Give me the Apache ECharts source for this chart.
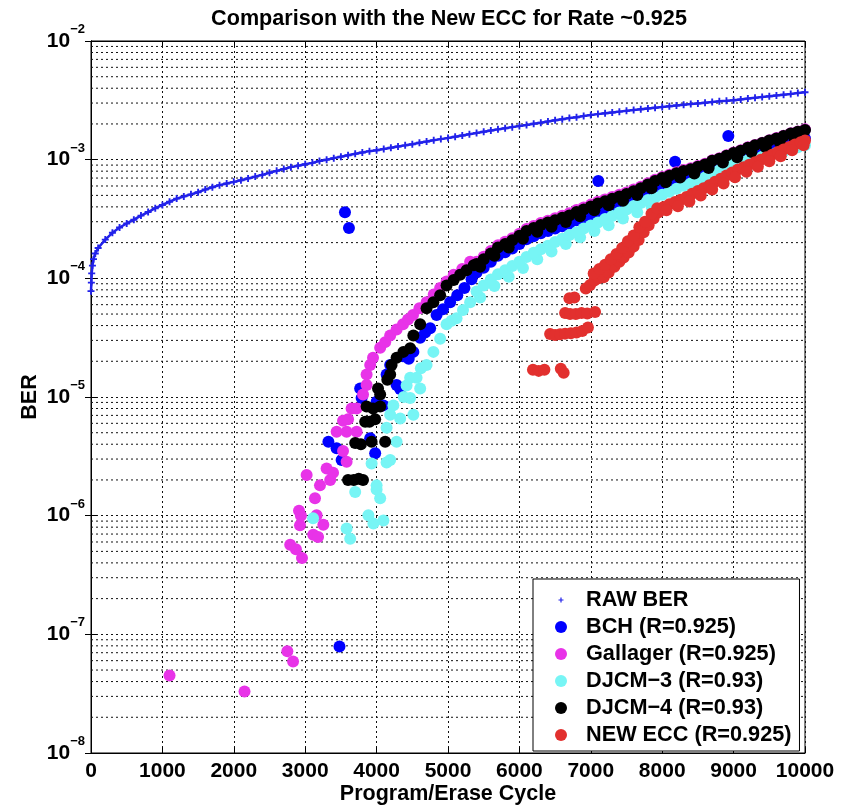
<!DOCTYPE html>
<html><head><meta charset="utf-8">
<script src="https://cdn.jsdelivr.net/npm/echarts@6/dist/echarts.min.js"></script>
<style>html,body{margin:0;padding:0;background:#fff}#c{width:848px;height:805px}</style>
</head><body><div id="c"></div>
<script>
// ---------- data ----------
const xTickValues = [0,1000,2000,3000,4000,5000,6000,7000,8000,9000,10000];
const yTickExponents = [-8,-7,-6,-5,-4,-3,-2];
const seriesNames = ['RAW BER','BCH (R=0.925)','Gallager (R=0.925)','DJCM\u22123 (R=0.93)','DJCM\u22124 (R=0.93)','NEW ECC (R=0.925)'];

const rawBER = [[0,7.8e-5],[5,9.2e-5],[10,1.1e-4],[20,1.28e-4],[35,1.45e-4],[60,1.62e-4],[100,1.8e-4],[200,2.12e-4],[300,2.42e-4],[400,2.68e-4],[500,2.9e-4],[600,3.12e-4],[700,3.38e-4],[800,3.62e-4],[900,3.9e-4],[1000,4.15e-4],[1100,4.42e-4],[1200,4.7e-4],[1300,4.9e-4],[1400,5.1e-4],[1500,5.32e-4],[1600,5.6e-4],[1700,5.85e-4],[1800,6.1e-4],[1900,6.3e-4],[2000,6.5e-4],[2100,6.7e-4],[2200,6.95e-4],[2300,7.2e-4],[2400,7.45e-4],[2500,7.75e-4],[2600,8.05e-4],[2700,8.35e-4],[2800,8.65e-4],[2900,8.9e-4],[3000,9.15e-4],[3100,9.4e-4],[3200,9.75e-4],[3300,1.0e-3],[3400,1.03e-3],[3500,1.06e-3],[3600,1.09e-3],[3700,1.12e-3],[3800,1.15e-3],[3900,1.18e-3],[4000,1.2e-3],[4100,1.23e-3],[4200,1.26e-3],[4300,1.29e-3],[4400,1.32e-3],[4500,1.35e-3],[4600,1.39e-3],[4700,1.42e-3],[4800,1.46e-3],[4900,1.49e-3],[5000,1.52e-3],[5100,1.56e-3],[5200,1.6e-3],[5300,1.64e-3],[5400,1.68e-3],[5500,1.72e-3],[5600,1.76e-3],[5700,1.8e-3],[5800,1.84e-3],[5900,1.88e-3],[6000,1.92e-3],[6100,1.96e-3],[6200,2.01e-3],[6300,2.05e-3],[6400,2.1e-3],[6500,2.15e-3],[6600,2.19e-3],[6700,2.24e-3],[6800,2.28e-3],[6900,2.33e-3],[7000,2.38e-3],[7100,2.42e-3],[7200,2.46e-3],[7300,2.5e-3],[7400,2.54e-3],[7500,2.58e-3],[7600,2.62e-3],[7700,2.66e-3],[7800,2.7e-3],[7900,2.74e-3],[8000,2.78e-3],[8100,2.82e-3],[8200,2.86e-3],[8300,2.9e-3],[8400,2.94e-3],[8500,2.98e-3],[8600,3.02e-3],[8700,3.06e-3],[8800,3.1e-3],[8900,3.13e-3],[9000,3.17e-3],[9100,3.22e-3],[9200,3.27e-3],[9300,3.32e-3],[9400,3.37e-3],[9500,3.42e-3],[9600,3.48e-3],[9700,3.53e-3],[9800,3.58e-3],[9900,3.64e-3],[10000,3.7e-3]];

const bchBER = [[3480,7.9e-8],[3557,3.6e-4],[3613,2.65e-4],[7105,6.6e-4],[8180,9.6e-4],[8926,1.58e-3],
 [3325,4.2e-6],[3440,3.7e-6],[3510,2.95e-6],[3770,1.18e-5],[3790,9.8e-6],[3910,4.5e-6],[3980,3.35e-6],[4000,9.1e-6],[4095,8.5e-6],[4140,1.55e-5],[4190,1.86e-5],[4280,1.26e-5],[4330,1.17e-5],[4370,2.2e-5],[4450,2.1e-5],[4515,2.4e-5],[4610,3.16e-5],[4680,3.5e-5],[4750,3.8e-5],[4840,4.9e-5],[4930,5.5e-5],[5030,6.3e-5],[5130,7.2e-5],[5230,8.3e-5],[5330,9.8e-5],
 [5400,1.12e-4],[5500,1.23e-4],[5600,1.38e-4],[5700,1.55e-4],[5800,1.66e-4],[5900,1.78e-4],[6000,1.95e-4],[6100,2.13e-4],[6200,2.26e-4],[6300,2.4e-4],[6400,2.51e-4],[6500,2.63e-4],[6600,2.75e-4],[6700,2.88e-4],[6800,3.09e-4],[6900,3.23e-4],[7000,3.43e-4],[7100,3.63e-4],[7200,3.8e-4],[7300,3.98e-4],[7400,4.17e-4],[7500,4.36e-4],[7600,4.62e-4],[7700,4.89e-4],[7800,5.24e-4],[7900,5.62e-4],[8000,5.95e-4],[8100,6.23e-4],[8200,6.52e-4],[8300,6.83e-4],[8400,7.07e-4],[8500,7.4e-4],[8600,7.75e-4],[8700,8.3e-4],[8800,8.67e-4],[8900,9.18e-4],[9000,9.69e-4],[9100,1.01e-3],[9200,1.07e-3],[9300,1.12e-3],[9400,1.17e-3],[9500,1.23e-3],[9600,1.28e-3],[9700,1.34e-3],[9800,1.41e-3],[9900,1.46e-3],[10000,1.51e-3]];

const gallagerBER = [[1100,4.5e-8],[2150,3.3e-8],[2750,7.2e-8],[2830,5.9e-8],
 [2790,5.7e-7],[2870,5.2e-7],[2955,4.4e-7],[2913,1.1e-6],[2927,8.3e-7],[2940,1.0e-6],[3113,6.9e-7],[3160,1.01e-6],[3254,8.4e-7],[3180,6.6e-7],
 [3020,2.2e-6],[3137,1.4e-6],[3207,1.8e-6],[3300,2.5e-6],[3350,2.0e-6],[3390,2.3e-6],[3530,3.5e-6],[3580,2.85e-6],
 [3440,5.1e-6],[3580,5.1e-6],[3720,5.1e-6],[3530,6.3e-6],[3600,6.5e-6],[3650,8.0e-6],[3720,8.0e-6],
 [3810,1.05e-5],[3860,1.26e-5],[3860,1.55e-5],[3910,1.86e-5],[3950,2.14e-5],[4050,2.6e-5],[4120,2.9e-5],[4190,3.3e-5],[4280,3.7e-5],[4370,4.1e-5],[4440,4.5e-5],[4510,4.9e-5],[4600,5.6e-5],[4700,6.3e-5],[4800,7.3e-5],[4890,8.3e-5],[4980,9.4e-5],[5080,1.07e-4],[5200,1.2e-4],[5310,1.38e-4],
 [5400,1.38e-4],[5500,1.52e-4],[5600,1.7e-4],[5700,1.9e-4],[5800,2.03e-4],[5900,2.18e-4],[6000,2.38e-4],[6100,2.6e-4],[6200,2.76e-4],[6300,2.93e-4],[6400,3.06e-4],[6500,3.21e-4],[6600,3.37e-4],[6700,3.53e-4],[6800,3.77e-4],[6900,3.95e-4],[7000,4.18e-4],[7100,4.42e-4],[7200,4.62e-4],[7300,4.84e-4],[7400,5.06e-4],[7500,5.3e-4],[7600,5.6e-4],[7700,5.92e-4],[7800,6.33e-4],[7900,6.76e-4],[8000,7.15e-4],[8100,7.48e-4],[8200,7.82e-4],[8300,8.18e-4],[8400,8.45e-4],[8500,8.84e-4],[8600,9.25e-4],[8700,9.9e-4],[8800,1.03e-3],[8900,1.09e-3],[9000,1.15e-3],[9100,1.2e-3],[9200,1.27e-3],[9300,1.33e-3],[9400,1.39e-3],[9500,1.46e-3],[9600,1.52e-3],[9700,1.59e-3],[9800,1.67e-3],[9900,1.73e-3],[10000,1.8e-3]];

const djcm3BER = [[3110,9.5e-7],[3580,7.8e-7],[3630,6.4e-7],[3885,1.01e-6],[3955,8.6e-7],[4095,9.1e-7],
 [3700,1.58e-6],[4000,1.66e-6],[4000,1.8e-6],[4050,1.4e-6],[3930,2.75e-6],[4140,2.8e-6],[4190,2.95e-6],[4280,4.2e-6],
 [4140,5.5e-6],[4190,7.1e-6],[4330,6.6e-6],[4515,7.1e-6],[4235,8.5e-6],[4380,1.0e-5],[4470,9.8e-6],[4420,1.25e-5],[4610,1.18e-5],
 [4470,1.45e-5],[4560,1.45e-5],[4620,1.75e-5],[4700,1.86e-5],[4795,2.4e-5],[4890,3.1e-5],[4980,4.1e-5],[5050,4.4e-5],[5120,4.6e-5],[5210,5.4e-5],[5310,6.3e-5],
 [5450,6.9e-5],[5650,8.6e-5],[5850,1.03e-4],[6050,1.22e-4],[6250,1.45e-4],[6450,1.68e-4],[6650,1.95e-4],[6850,2.22e-4],[7050,2.5e-4],[7250,2.8e-4],[7450,3.2e-4],[7650,3.6e-4],[7850,4.05e-4],
 [5400,7.76e-5],[5500,8.71e-5],[5600,9.77e-5],[5700,1.08e-4],[5800,1.17e-4],[5900,1.27e-4],[6000,1.38e-4],[6100,1.51e-4],[6200,1.64e-4],[6300,1.76e-4],[6400,1.88e-4],[6500,2.02e-4],[6600,2.16e-4],[6700,2.32e-4],[6800,2.45e-4],[6900,2.63e-4],[7000,2.79e-4],[7100,2.95e-4],[7200,3.16e-4],[7300,3.35e-4],[7400,3.59e-4],[7500,3.8e-4],[7600,4.07e-4],[7700,4.32e-4],[7800,4.57e-4],[7900,4.79e-4],[8000,5.07e-4],[8100,5.37e-4],[8200,5.69e-4],[8300,6.03e-4],[8400,6.31e-4],[8500,6.68e-4],[8600,7.08e-4],[8700,7.59e-4],[8800,8.13e-4],[8900,8.71e-4],[9000,9.23e-4],[9100,9.55e-4],[9200,9.89e-4],[9300,1.02e-3],[9400,1.06e-3],[9500,1.1e-3],[9600,1.14e-3],[9700,1.17e-3],[9800,1.22e-3],[9900,1.27e-3],[10000,1.32e-3]];

const djcm4BER = [[3600,2.0e-6],[3680,2.0e-6],[3750,2.05e-6],[3810,2.0e-6],
 [3700,4.1e-6],[3780,4.0e-6],[3930,4.2e-6],[4120,4.2e-6],[3840,6.2e-6],[3900,6.2e-6],[3980,6.5e-6],[3860,8.3e-6],[3950,8.0e-6],[4050,8.3e-6],[4020,1.18e-5],[4050,1.05e-5],
 [4150,1.4e-5],[4190,1.55e-5],[4210,1.86e-5],[4280,2.14e-5],[4375,2.4e-5],[4470,2.57e-5],[4515,3.3e-5],[4610,4.1e-5],[4700,5.6e-5],[4795,6.3e-5],[4890,7.2e-5],[4980,8.7e-5],[5080,9.7e-5],[5170,1.07e-4],[5260,1.17e-4],[5360,1.29e-4],
 [5400,1.32e-4],[5500,1.45e-4],[5600,1.62e-4],[5700,1.82e-4],[5800,1.95e-4],[5900,2.09e-4],[6000,2.29e-4],[6100,2.51e-4],[6200,2.66e-4],[6300,2.82e-4],[6400,2.95e-4],[6500,3.09e-4],[6600,3.24e-4],[6700,3.39e-4],[6800,3.63e-4],[6900,3.8e-4],[7000,4.03e-4],[7100,4.27e-4],[7200,4.47e-4],[7300,4.68e-4],[7400,4.9e-4],[7500,5.13e-4],[7600,5.43e-4],[7700,5.75e-4],[7800,6.17e-4],[7900,6.61e-4],[8000,7.0e-4],[8100,7.33e-4],[8200,7.67e-4],[8300,8.04e-4],[8400,8.32e-4],[8500,8.71e-4],[8600,9.12e-4],[8700,9.77e-4],[8800,1.02e-3],[8900,1.08e-3],[9000,1.14e-3],[9100,1.19e-3],[9200,1.26e-3],[9300,1.32e-3],[9400,1.38e-3],[9500,1.45e-3],[9600,1.51e-3],[9700,1.58e-3],[9800,1.66e-3],[9900,1.72e-3],[10000,1.78e-3],
 [5450,1.25e-4],[5650,1.55e-4],[5850,1.82e-4],[6050,2.16e-4],[6250,2.47e-4],[6450,2.72e-4],[6650,2.98e-4],[6850,3.34e-4],[7050,3.74e-4],[7250,4.12e-4],[7450,4.51e-4],[7650,5.03e-4],[7850,5.75e-4],[8050,6.45e-4],[8250,7.07e-4],[8450,7.65e-4],[8650,8.5e-4],[8850,9.45e-4],[9050,1.05e-3],[9250,1.16e-3],[9450,1.27e-3],[9650,1.39e-3],[9850,1.52e-3]];

const newEccBER = [[6190,1.7e-5],[6270,1.66e-5],[6350,1.7e-5],[6580,1.73e-5],[6620,1.6e-5],
 [6430,3.4e-5],[6500,3.33e-5],[6570,3.38e-5],[6640,3.42e-5],[6720,3.45e-5],[6800,3.5e-5],[6880,3.6e-5],[6960,3.85e-5],
 [6640,5.1e-5],[6710,5.0e-5],[6790,5.0e-5],[6870,5.1e-5],[6950,5.05e-5],[7060,5.2e-5],[6700,6.8e-5],[6770,6.9e-5],
 [6930,8.2e-5],[6990,8.8e-5],[7050,9.6e-5],[7110,1.0e-4],[7180,1.02e-4],[7250,1.12e-4],[7330,1.25e-4],[7400,1.38e-4],[7460,1.5e-4],[7530,1.65e-4],[7600,1.85e-4],[7670,2.1e-4],[7740,2.45e-4],[7810,2.8e-4],[7880,3.2e-4],[7950,3.6e-4],
 [7040,1.1e-4],[7120,1.2e-4],[7200,1.3e-4],[7280,1.45e-4],[7360,1.6e-4],[7440,1.8e-4],[7520,2.05e-4],[7600,2.3e-4],[7680,2.7e-4],[7760,3.0e-4],[7850,3.5e-4],[7930,3.9e-4],
 [8020,4.0e-4],[8100,4.2e-4],[8180,4.4e-4],[8260,4.6e-4],[8340,4.85e-4],[8420,5.15e-4],[8500,5.45e-4],[8580,5.75e-4],[8660,6.1e-4],[8740,6.5e-4],[8820,6.9e-4],[8900,7.35e-4],[8980,7.8e-4],[9060,8.25e-4],[9140,8.65e-4],[9220,9.05e-4],[9300,9.5e-4],[9380,1.0e-3],[9460,1.05e-3],[9540,1.1e-3],[9620,1.16e-3],[9700,1.22e-3],[9780,1.28e-3],[9860,1.34e-3],[9940,1.4e-3],[10000,1.45e-3],
 [8060,3.75e-4],[8220,4.05e-4],[8380,4.45e-4],[8540,5.0e-4],[8700,5.6e-4],[8860,6.3e-4],[9020,7.1e-4],[9180,7.9e-4],[9340,8.7e-4],[9500,9.7e-4],[9660,1.07e-3],[9820,1.2e-3],[9980,1.32e-3]];

// ---------- styling ----------
const FONT = '"Liberation Sans", Arial, Helvetica, sans-serif';
const colors = ['#2222ea','#0000ff','#e833e8','#77f5f5','#000000','#e2302e'];
const plusSymbol = 'path://M2.2,0h1.6v2.2h2.2v1.6h-2.2v2.2h-1.6v-2.2h-2.2v-1.6h2.2z';
const plusLegend = 'path://M0,0h0.01v0.01h-0.01z M10.8,7h2.4v3.8h3.8v2.4h-3.8v3.8h-2.4v-3.8h-3.8v-2.4h3.8z M24,24h0.01v0.01h-0.01z';
const gridStyle = {color:'#111', type:[2,3], width:1, opacity:1};
const xMin = xTickValues[0], xMax = xTickValues[xTickValues.length - 1];

// minor horizontal grid lines of the log axis (2..9 x 10^e), drawn as broken line segments
const minorGridPts = [];
for (let e = yTickExponents[0]; e < yTickExponents[yTickExponents.length - 1]; e++) {
  for (let m = 2; m <= 9; m++) {
    const v = m * Math.pow(10, e);
    minorGridPts.push([xMin, v], [xMax, v], [xMax, null]);
  }
}

function yLabel(v){
  const e = Math.round(Math.log10(v));
  return '{b|10}{s|' + (e < 0 ? '\u2212' : '') + Math.abs(e) + '}';
}

const chart = echarts.init(document.getElementById('c'), null, {renderer:'canvas'});
const scatterBase = (name, data, color) => ({
  name, type:'scatter', data, symbol:'circle', symbolSize:12,
  itemStyle:{color, opacity:1}, silent:true, animation:false, z:3
});

chart.setOption({
  animation:false,
  backgroundColor:'#fff',
  title:{text:'Comparison with the New ECC for Rate ~0.925', left:444, top:3, textAlign:'center',
    textStyle:{fontSize:21.6, fontWeight:'bold', fontFamily:FONT, color:'#000'}},
  grid:{left:91, right:43, top:41, bottom:52, show:true, borderColor:'#000', borderWidth:1, backgroundColor:'transparent', outerBoundsMode:'none'},
  legend:{orient:'vertical', left:533, top:579, padding:[10,8,5,22], itemGap:5, itemWidth:40, itemHeight:12,
    backgroundColor:'#fff', borderColor:'#000', borderWidth:1, borderRadius:0, selectedMode:false, z:10,
    textStyle:{fontSize:21.7, fontWeight:'bold', fontFamily:FONT, color:'#000', lineHeight:21},
    data:[{name:seriesNames[0], icon:plusLegend}].concat(seriesNames.slice(1).map(n=>({name:n, icon:'circle'})))},
  xAxis:[{type:'value', min:xMin, max:xMax, interval:1000, position:'bottom',
      name:'Program/Erase Cycle', nameLocation:'middle', nameGap:30, nameMoveOverlap:false,
      nameTextStyle:{fontSize:21.5, fontWeight:'bold', fontFamily:FONT, color:'#000'},
      axisLine:{show:true, lineStyle:{color:'#000', width:1}}, axisTick:{show:true, inside:true, length:6, lineStyle:{color:'#000'}},
      axisLabel:{fontSize:21, fontWeight:'bold', fontFamily:FONT, color:'#000', margin:8, showMinLabel:true, showMaxLabel:true,
        formatter: v => String(v)},
      splitLine:{show:true, lineStyle:gridStyle}},
    {type:'value', min:xMin, max:xMax, interval:1000, position:'top',
      axisLine:{show:true, lineStyle:{color:'#000'}}, axisTick:{show:true, inside:true, length:6, lineStyle:{color:'#000'}},
      axisLabel:{show:false}, splitLine:{show:false}}],
  yAxis:[{type:'log', logBase:10, min:Math.pow(10, yTickExponents[0]), max:Math.pow(10, yTickExponents[yTickExponents.length-1]), splitNumber:6,
      name:'BER', nameLocation:'middle', nameGap:50, nameMoveOverlap:false,
      nameTextStyle:{fontSize:21.5, fontWeight:'bold', fontFamily:FONT, color:'#000'},
      axisLine:{show:true, lineStyle:{color:'#000'}}, axisTick:{show:true, inside:true, length:6, lineStyle:{color:'#000'}},
      axisLabel:{formatter:yLabel, margin:6, showMinLabel:true, showMaxLabel:true, color:'#000',
        rich:{b:{fontSize:21, fontWeight:'bold', fontFamily:FONT, color:'#000', lineHeight:36, verticalAlign:'middle'},
              s:{fontSize:13, fontWeight:'bold', fontFamily:FONT, color:'#000', lineHeight:13, verticalAlign:'top'}}},
      splitLine:{show:true, lineStyle:gridStyle}},
    {type:'log', logBase:10, min:Math.pow(10, yTickExponents[0]), max:Math.pow(10, yTickExponents[yTickExponents.length-1]), splitNumber:6, position:'right',
      axisLine:{show:true, lineStyle:{color:'#000'}}, axisTick:{show:true, inside:true, length:6, lineStyle:{color:'#000'}},
      axisLabel:{show:false}, splitLine:{show:false}}],
  series:[
    {name:'_minorGrid', type:'line', data:minorGridPts, symbol:'none', showSymbol:false, connectNulls:false,
      lineStyle:gridStyle, itemStyle:{color:'#111'}, z:1, silent:true, animation:false},
    {name:seriesNames[0], type:'line', data:rawBER, symbol:plusSymbol, symbolSize:7, showSymbol:true,
      lineStyle:{color:colors[0], width:2.5}, itemStyle:{color:colors[0]}, silent:true, animation:false, z:3},
    scatterBase(seriesNames[1], bchBER, colors[1]),
    scatterBase(seriesNames[2], gallagerBER, colors[2]),
    scatterBase(seriesNames[3], djcm3BER, colors[3]),
    scatterBase(seriesNames[4], djcm4BER, colors[4]),
    scatterBase(seriesNames[5], newEccBER, colors[5])
  ]
});
</script>
</body></html>
